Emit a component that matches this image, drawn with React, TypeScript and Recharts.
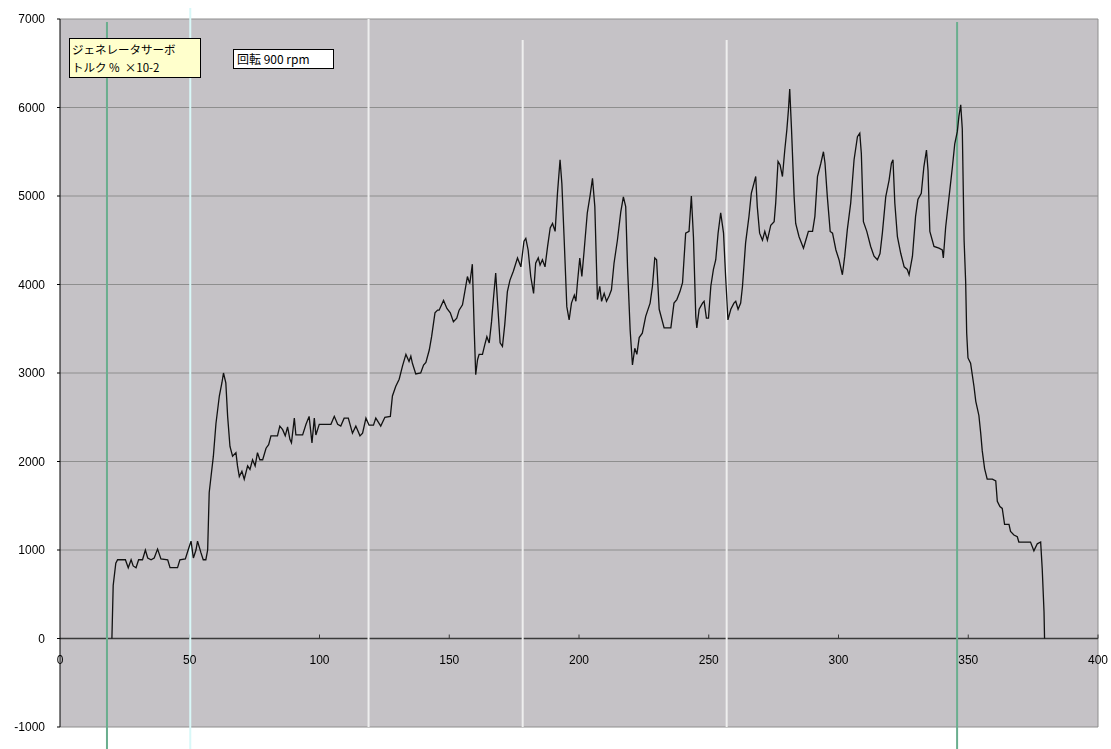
import {
  ComposedChart, Line, XAxis, YAxis, CartesianGrid,
  ReferenceLine, ReferenceDot,
} from "recharts";

// 経過時間 (s) とジェネレータサーボトルク (% ×10-2)
const timeA = [
  20, 20.5, 21.5, 22.2, 25.2, 26.3, 27.4, 28.2, 29.3, 30.3,
  31.8, 32.9, 33.8, 35.1, 36.3, 37.6, 38.9, 41.5, 42.4, 45.3,
  46.2, 48.3, 49.6, 50.5, 51.4, 52.4, 53.0, 54.3, 55.2, 56.2,
  56.9, 57.5, 58.2, 59.1, 60.1, 61.4, 62.4, 63.0, 63.9, 64.6,
  65.5, 66.5, 67.8, 68.4, 69.1, 70.1, 71.0, 72.3, 73.2, 74.2,
  75.2, 76.1, 77.0, 78.1, 79.4, 80.4, 81.3, 83.8, 84.7, 85.8,
  86.8, 87.7, 88.6, 89.2, 90.3, 90.9, 93.5, 94.8, 96.0, 97.1,
  98.0, 98.6, 99.9, 104.4, 105.7, 107.0, 108.2, 109.5, 111.1, 112.7,
  114.0, 115.6, 116.6, 117.9, 119.1, 120.8, 121.7, 123.6, 125.2, 127.3,
];
const torqueA = [
  0, 600, 850, 890, 890, 800, 890, 820, 800, 890,
  890, 1000, 910, 890, 910, 1010, 900, 890, 800, 800,
  890, 900, 1020, 1100, 910, 1000, 1100, 970, 890, 890,
  1000, 1650, 1830, 2060, 2430, 2740, 2890, 3000, 2890, 2510,
  2170, 2060, 2100, 1950, 1830, 1890, 1800, 1950, 1910, 2020,
  1950, 2100, 2020, 2020, 2150, 2190, 2290, 2290, 2400, 2360,
  2290, 2390, 2250, 2210, 2490, 2300, 2300, 2420, 2510, 2210,
  2490, 2300, 2420, 2420, 2510, 2420, 2400, 2490, 2490, 2320,
  2400, 2290, 2320, 2490, 2410, 2410, 2490, 2400, 2500, 2510,
];

const timeB = [
  128.1, 129.4, 130.7, 132.0, 133.3, 134.5, 135.2, 135.8, 137.1, 139.0,
  140.1, 141.0, 142.3, 143.2, 144.5, 145.5, 146.1, 147.8, 149.1, 150.4,
  151.6, 152.9, 153.8, 155.1, 156.0, 157.0, 157.9, 158.9, 159.6, 160.2,
  160.9, 161.5, 162.8, 163.7, 164.5, 165.4, 166.3, 167.0, 167.9, 168.8,
  169.6, 170.5, 171.4, 172.4, 173.4, 174.7, 176.3, 177.6, 178.8, 179.5,
  180.4, 181.4, 182.5, 183.3, 184.3, 185.0, 185.9, 186.9, 187.9, 188.9,
  189.8, 190.8, 191.7, 192.7, 193.4, 194.3, 195.3, 196.2, 197.1, 198.2,
  198.8, 199.4, 200.3, 201.1, 202.0, 203.2, 204.3, 205.2, 206.1, 207.1,
  208.0, 208.7, 209.7, 210.6, 211.6, 212.5, 213.5, 214.8, 216.1, 217.1,
  218.0, 218.7, 219.7, 220.6, 221.5, 222.3, 223.2, 224.4,
];
const torqueB = [
  2740, 2850, 2930, 3080, 3210, 3130, 3190, 3110, 2990, 3000,
  3090, 3120, 3260, 3410, 3680, 3710, 3710, 3820, 3730, 3680,
  3580, 3620, 3710, 3770, 3920, 4090, 4010, 4230, 3510, 2980,
  3150, 3210, 3210, 3320, 3410, 3340, 3580, 3830, 4130, 3710,
  3340, 3300, 3550, 3920, 4050, 4150, 4300, 4200, 4490, 4520,
  4390, 4090, 3900, 4240, 4300, 4220, 4280, 4200, 4430, 4640,
  4690, 4600, 5030, 5410, 5140, 4500, 3750, 3600, 3790, 3880,
  3810, 4020, 4300, 4090, 4390, 4810, 5010, 5200, 4880, 3830,
  3980, 3810, 3900, 3810, 3870, 3940, 4240, 4500, 4820, 4990,
  4880, 4200, 3490, 3090, 3280, 3210, 3400, 3450,
];

const timeC = [
  225.7, 227.4, 228.3, 229.2, 229.9, 230.9, 232.8, 235.4, 236.6, 237.7,
  238.9, 239.9, 241.1, 242.4, 243.3, 244.1, 245.0, 245.4, 246.3, 247.6,
  248.2, 249.1, 249.9, 250.8, 251.8, 252.7, 253.6, 254.6, 255.7, 256.5,
  257.4, 258.5, 259.7, 260.4, 261.3, 262.3, 263.0, 264.2, 265.5, 266.4,
  268.1, 268.7, 269.6, 270.7, 271.6, 272.6, 273.9, 275.2, 275.8, 276.7,
  277.5, 278.4, 279.3, 280.1, 280.7, 281.2, 281.9, 282.9, 283.5, 284.8,
  286.5, 287.4, 288.4, 290.0, 290.9, 291.9, 293.2, 294.2, 294.8, 295.7,
  296.8, 297.7, 299.0, 300.2, 301.5, 302.4, 303.4, 304.7, 306.0, 307.3,
  308.2, 308.8, 309.6, 310.9, 312.4, 313.7, 315.0, 316.0, 316.9, 318.2,
  319.5, 320.4, 321.0, 321.7, 322.7, 324.0, 325.3, 326.5, 327.2, 328.5,
  329.7, 330.6, 331.9, 332.9, 333.9, 334.5, 335.2, 336.8, 338.7, 340.0,
  340.4, 341.3, 342.6, 343.9, 344.8, 345.8, 346.4, 347.1, 347.7, 348.4,
];
const torqueC = [
  3640, 3790, 3980, 4300, 4280, 3720, 3510, 3510, 3790, 3830,
  3920, 4020, 4580, 4600, 5000, 4540, 3640, 3510, 3720, 3790,
  3810, 3620, 3620, 3980, 4170, 4280, 4580, 4810, 4580, 4090,
  3600, 3720, 3790, 3810, 3720, 3790, 3980, 4470, 4770, 5030,
  5220, 4880, 4580, 4500, 4600, 4500, 4670, 4710, 4920, 5390,
  5350, 5220, 5520, 5750, 5970, 6210, 5750, 4990, 4690, 4540,
  4410, 4500, 4600, 4600, 4770, 5220, 5370, 5500, 5370, 4990,
  4600, 4580, 4390, 4280, 4110, 4320, 4620, 4920, 5410, 5670,
  5710, 5480, 4710, 4600, 4430, 4320, 4280, 4350, 4580, 4990,
  5180, 5370, 5410, 4920, 4540, 4350, 4200, 4170, 4110, 4320,
  4770, 4960, 5030, 5330, 5520, 5290, 4600, 4430, 4410, 4390,
  4300, 4650, 4990, 5330, 5590, 5730, 5900, 6030, 5760, 4500,
];

const timeD = [
  349.0, 349.4, 349.9, 350.9, 351.6, 352.2, 352.9, 353.5, 354.1, 354.8,
  355.4, 356.3, 357.3, 359.3, 360.6, 361.2, 362.2, 363.1, 364.0, 365.7,
  366.3, 367.6, 368.9, 369.5, 374.0, 375.3, 376.6, 377.9, 378.5, 379.2, 379.4,
];
const torqueD = [
  4030, 3450, 3170, 3110, 2970, 2850, 2680, 2600, 2520, 2320,
  2120, 1920, 1800, 1800, 1780, 1550, 1490, 1470, 1290, 1290,
  1210, 1170, 1150, 1090, 1090, 990, 1070, 1090, 790, 300, 0,
];

const xTicks = [0, 50, 100, 150, 200, 250, 300, 350, 400];
const yTicks = [-1000, 0, 1000, 2000, 3000, 4000, 5000, 6000, 7000];

// 縦の区切り線 (時刻と種類)
const eventTimes = [18.1, 50.2, 118.9, 178.3, 256.9, 345.7];
const eventKinds = ["start", "mark", "zone", "zoneShort", "zoneShort", "end"];

const times = [...timeA, ...timeB, ...timeC, ...timeD];
const torques = [...torqueA, ...torqueB, ...torqueC, ...torqueD];
const data = times.map((t, i) => ({ t, torque: torques[i] }));

const eventStyle: Record<string, { stroke: string; width: number; top: number; bottom: number }> = {
  start: { stroke: "#6aae8e", width: 2, top: 6966, bottom: -1260 },
  mark: { stroke: "#d8f8f8", width: 2, top: 7160, bottom: -1260 },
  zone: { stroke: "#eeeeee", width: 2, top: 7000, bottom: -1000 },
  zoneShort: { stroke: "#eeeeee", width: 2, top: 6763, bottom: -1000 },
  end: { stroke: "#6aae8e", width: 2, top: 6966, bottom: -1260 },
};

const FONT = '"Liberation Sans", Arial, sans-serif';
const JP = '"Noto Sans CJK JP", "Liberation Sans", sans-serif';

export default function App() {
  return (
    <div style={{ position: "fixed", left: 8, top: 8, width: 1103, height: 741 }}>
      <ComposedChart
        width={1103}
        height={741}
        data={data}
        margin={{ top: 11, right: 13, left: 0, bottom: 22 }}
        style={{ overflow: "visible" }}
      >
        <CartesianGrid vertical={false} stroke="#8e8e8e" fill="#c5c2c6" />
        <XAxis dataKey="t" type="number" domain={[0, 400]} ticks={xTicks} hide />
        <YAxis
          type="number"
          domain={[-1000, 7000]}
          ticks={yTicks}
          width={52}
          tickSize={3}
          tickMargin={12}
          tick={{ fill: "#000", fontSize: 12, fontFamily: FONT }}
          axisLine={{ stroke: "#000", strokeWidth: 1 }}
          tickLine={{ stroke: "#000" }}
          interval={0}
        />
        <ReferenceLine x={400} stroke="#8e8e8e" />
        <ReferenceLine y={0} stroke="#3a3a3a" strokeWidth={1.5} />
        {xTicks.slice(1).map((t) => (
          <ReferenceLine
            key={`tk${t}`}
            segment={[{ x: t, y: 0 }, { x: t, y: 45 }]}
            stroke="#3a3a3a"
          />
        ))}
        {xTicks.map((t) => (
          <ReferenceDot
            key={`tl${t}`}
            x={t}
            y={0}
            r={0}
            stroke="none"
            fill="none"
            ifOverflow="visible"
            label={{ value: String(t), position: "bottom", offset: 17, fontSize: 12, fill: "#000", fontFamily: FONT }}
          />
        ))}
        {eventTimes.map((t, i) => {
          const s = eventStyle[eventKinds[i]];
          return (
            <ReferenceLine
              key={`ev${i}`}
              segment={[{ x: t, y: s.bottom }, { x: t, y: s.top }]}
              stroke={s.stroke}
              strokeWidth={s.width}
              ifOverflow="visible"
            />
          );
        })}
        <Line
          type="linear"
          dataKey="torque"
          stroke="#111"
          strokeWidth={1.3}
          dot={false}
          isAnimationActive={false}
        />
      </ComposedChart>
      <div
        style={{
          position: "absolute", left: 61, top: 30, width: 128, height: 37,
          background: "#ffffcc", border: "1px solid #000", fontFamily: JP,
          fontSize: 11.5, lineHeight: "18px", padding: "1px 0 0 2px", whiteSpace: "pre",
          color: "#000", boxSizing: "content-box",
        }}
      >
        {"ジェネレータサーボ\nトルク %  ×10-2"}
      </div>
      <div
        style={{
          position: "absolute", left: 225, top: 41, width: 96, height: 18,
          background: "#fff", border: "1px solid #000", fontFamily: JP,
          fontSize: 12, lineHeight: "18px", padding: "0 0 0 3px", whiteSpace: "pre",
          color: "#000",
        }}
      >
        {"回転 900 rpm"}
      </div>
    </div>
  );
}
